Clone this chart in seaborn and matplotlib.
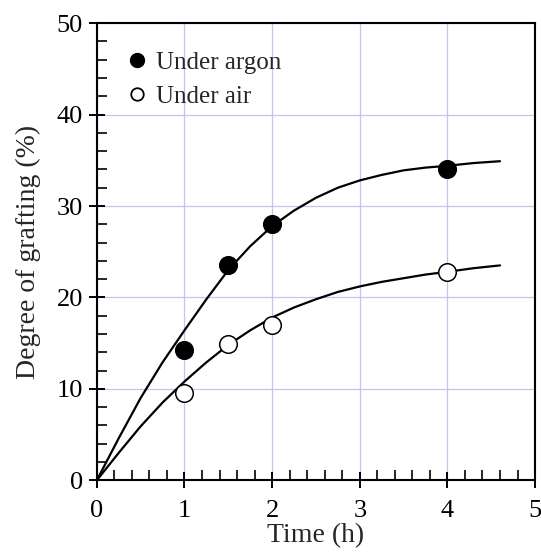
import numpy as np
import pandas as pd
import matplotlib
matplotlib.use("Agg")
import matplotlib.pyplot as plt
from matplotlib.ticker import MultipleLocator
from matplotlib.lines import Line2D
import seaborn as sns

# measured points
time_h = [1, 1.5, 2, 4]
argon_pts = [14.3, 23.5, 28.0, 34.0]
air_pts = [9.5, 14.9, 17.0, 22.8]

# fitted curves
fit_t = [0, 0.25, 0.5, 0.75, 1.0, 1.25, 1.5, 1.75, 2.0, 2.25, 2.5, 2.75,
         3.0, 3.25, 3.5, 3.75, 4.0, 4.3, 4.6]
argon_fit = [0, 4.6, 9.0, 12.9, 16.4, 19.8, 23.0, 25.6, 27.8, 29.5, 30.9, 32.0,
             32.8, 33.4, 33.9, 34.2, 34.4, 34.7, 34.9]
air_fit = [0, 3.0, 5.9, 8.5, 10.8, 12.9, 14.8, 16.4, 17.8, 18.9, 19.8, 20.6,
           21.2, 21.7, 22.1, 22.5, 22.8, 23.2, 23.5]

pts = pd.DataFrame({"t": time_h * 2, "y": argon_pts + air_pts,
                    "gas": ["Under argon"] * 4 + ["Under air"] * 4})
fit = pd.DataFrame({"t": fit_t * 2, "y": argon_fit + air_fit,
                    "gas": ["Under argon"] * len(fit_t) + ["Under air"] * len(fit_t)})

sns.set_style("white")
plt.rcParams["font.family"] = ["Liberation Serif", "DejaVu Serif"]

fig = plt.figure(figsize=(5.41, 5.52), dpi=100)
ax = fig.add_axes([0.179, 0.130, 0.810, 0.828])

ax.grid(True, which="major", color="#c4c4f2", linewidth=0.9)
ax.set_axisbelow(True)

sns.lineplot(data=fit, x="t", y="y", hue="gas", palette=["black", "black"],
             linewidth=1.6, legend=False, ax=ax, sort=False, estimator=None)

for gas, face in [("Under argon", "black"), ("Under air", "white")]:
    sub = pts[pts["gas"] == gas]
    sns.scatterplot(data=sub, x="t", y="y", s=160, color=face,
                    edgecolor="black", linewidth=1.1, ax=ax, zorder=5, legend=False)

ax.set_xlim(0, 5)
ax.set_ylim(0, 50)
ax.xaxis.set_major_locator(MultipleLocator(1))
ax.xaxis.set_minor_locator(MultipleLocator(0.2))
ax.yaxis.set_major_locator(MultipleLocator(10))
ax.yaxis.set_minor_locator(MultipleLocator(2))
ax.tick_params(which="major", direction="inout", length=12, width=1.4,
               labelsize=19, colors="black")
ax.tick_params(which="minor", direction="in", length=7, width=1.4)
ax.tick_params(axis="x", which="major", pad=8)
ax.tick_params(axis="y", which="major", pad=4)
ax.tick_params(bottom=True, left=True, top=False, right=False, which="both")
for sp in ax.spines.values():
    sp.set_color("black")
    sp.set_linewidth(1.5)

ax.set_xlabel("Time (h)", fontsize=20, labelpad=1)
ax.set_ylabel("Degree of grafting (%)", fontsize=20, labelpad=11)

handles = [Line2D([], [], linestyle="none", marker="o", markersize=10,
                  markerfacecolor="black", markeredgecolor="black"),
           Line2D([], [], linestyle="none", marker="o", markersize=9,
                  markerfacecolor="white", markeredgecolor="black", markeredgewidth=1.3)]
ax.legend(handles, ["Under argon", "Under air"], loc="upper left",
          bbox_to_anchor=(0.047, 0.96), frameon=False, fontsize=18,
          handlelength=0.8, handletextpad=0.35, labelspacing=0.45, borderaxespad=0)

fig.savefig("out.png", dpi=100)
